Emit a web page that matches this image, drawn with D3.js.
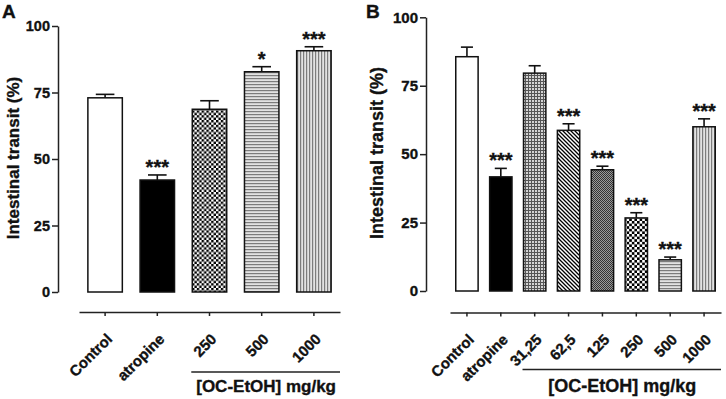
<!DOCTYPE html>
<html>
<head>
<meta charset="utf-8">
<script src="https://cdn.jsdelivr.net/npm/d3@7"></script>
<style>
  body { margin: 0; background: #fff; }
  svg { display: block; }
  text { font-family: "Liberation Sans", Arial, sans-serif; font-weight: 700; fill: #111; stroke: #111; stroke-width: 0.35px; }
</style>
</head>
<body>
<div id="chart"></div>
<script>
// Data
const categoriesA = ['Control', 'atropine', '250', '500', '1000'];
const meansA = [73.0, 42.1, 68.7, 82.8, 90.7];
const errorsA = [1.3, 1.9, 3.2, 1.9, 1.5];
const starsA = ['', '***', '', '*', '***'];

const categoriesB = ['Control', 'atropine', '31,25', '62,5', '125', '250', '500', '1000'];
const meansB = [85.6, 41.7, 79.6, 58.7, 44.3, 26.7, 11.4, 60.0];
const errorsB = [3.5, 3.1, 2.7, 2.4, 1.3, 1.9, 1.0, 2.9];
const starsB = ['', '***', '', '***', '***', '***', '***', '***'];

const yTicks = [0, 25, 50, 75, 100];
const yTitle = 'Intestinal transit (%)';
const doseLabel = '[OC-EtOH] mg/kg';

const width = 726;
const height = 399;

const svg = d3.select('#chart')
  .append('svg')
    .attr('width', width)
    .attr('height', height)
    .attr('viewBox', `0 0 ${width} ${height}`);

svg.append('rect').attr('width', width).attr('height', height).attr('fill', '#fff');

// Hatch patterns for the bars
const defs = svg.append('defs');

const checker = (id, size, dark, light) => {
  const p = defs.append('pattern').attr('id', id)
    .attr('patternUnits', 'userSpaceOnUse')
    .attr('width', size * 2).attr('height', size * 2);
  p.append('rect').attr('width', size * 2).attr('height', size * 2).attr('fill', light);
  p.append('rect').attr('width', size).attr('height', size).attr('fill', dark);
  p.append('rect').attr('x', size).attr('y', size).attr('width', size).attr('height', size).attr('fill', dark);
};
checker('checkA', 2.4, '#000', '#fff');
checker('checkB', 2.6, '#000', '#fff');
checker('darkFine', 1, '#333', '#9a9a9a');

const stripes = (id, vertical) => {
  const p = defs.append('pattern').attr('id', id)
    .attr('patternUnits', 'userSpaceOnUse')
    .attr('width', vertical ? 3 : 30).attr('height', vertical ? 30 : 3);
  p.append('rect').attr('width', 30).attr('height', 30).attr('fill', '#e2e2e2');
  p.append('rect')
    .attr('width', vertical ? 1.2 : 30)
    .attr('height', vertical ? 30 : 1.2)
    .attr('fill', '#7c7c7c');
};
stripes('horiz', false);
stripes('vert', true);

const grid = defs.append('pattern').attr('id', 'grid')
  .attr('patternUnits', 'userSpaceOnUse').attr('width', 3).attr('height', 3);
grid.append('rect').attr('width', 3).attr('height', 3).attr('fill', '#d4d4d4');
grid.append('rect').attr('width', 1).attr('height', 3).attr('fill', '#555');
grid.append('rect').attr('width', 3).attr('height', 1).attr('fill', '#555');

const diag = defs.append('pattern').attr('id', 'diag')
  .attr('patternUnits', 'userSpaceOnUse').attr('width', 4).attr('height', 4);
diag.append('rect').attr('width', 4).attr('height', 4).attr('fill', '#fff');
diag.append('path')
  .attr('d', 'M-1,-1 L5,5 M-1,3 L1,5 M3,-1 L5,1')
  .attr('stroke', '#000').attr('stroke-width', 1.3);

const fillsA = ['#fff', '#000', 'url(#checkA)', 'url(#horiz)', 'url(#vert)'];
const fillsB = ['#fff', '#000', 'url(#grid)', 'url(#diag)', 'url(#darkFine)', 'url(#checkB)', 'url(#horiz)', 'url(#vert)'];

// Draws one panel
const drawPanel = (cfg) => {
  const g = svg.append('g');

  const y = d3.scaleLinear().domain([0, 100]).range([cfg.y0, cfg.y100]);
  const x = d3.scaleBand()
    .domain(cfg.categories)
    .range([cfg.xStart, cfg.xEnd])
    .paddingInner(0.34)
    .paddingOuter(0.17);

  // Y axis
  const yAxis = g.append('g')
    .attr('transform', `translate(${cfg.yAxisX},0)`)
    .call(d3.axisLeft(y).tickValues(yTicks).tickSize(6).tickSizeOuter(0).tickPadding(2));
  yAxis.selectAll('path, line').attr('stroke', '#222').attr('stroke-width', 1.5);
  yAxis.selectAll('text')
    .attr('font-size', cfg.tickFont)
    .attr('font-family', '"Liberation Sans", Arial, sans-serif')
    .attr('fill', '#111');

  g.append('text')
    .attr('transform', `translate(${cfg.titleX},${cfg.titleY}) rotate(-90)`)
    .attr('text-anchor', 'middle')
    .attr('font-size', cfg.titleFont)
    .text(yTitle);

  // X axis, drawn below the bars
  const xAxis = g.append('g')
    .attr('transform', `translate(0,${cfg.xAxisY})`)
    .call(d3.axisBottom(x).tickSize(4).tickSizeOuter(0));
  xAxis.selectAll('path, line').attr('stroke', '#222').attr('stroke-width', 1.5);
  xAxis.selectAll('text')
    .attr('font-size', 15)
    .attr('font-family', '"Liberation Sans", Arial, sans-serif')
    .attr('fill', '#111')
    .attr('text-anchor', 'end')
    .attr('y', null)
    .attr('dy', null)
    .attr('transform', 'translate(8,28) rotate(-45)');

  // Bars
  const data = cfg.categories.map((c, i) => ({c, m: cfg.means[i], e: cfg.errors[i], s: cfg.stars[i], f: cfg.fills[i]}));
  const cap = x.bandwidth() * 0.27;

  const bars = g.append('g').selectAll('g').data(data).join('g');
  bars.append('line')
    .attr('x1', d => x(d.c) + x.bandwidth() / 2)
    .attr('x2', d => x(d.c) + x.bandwidth() / 2)
    .attr('y1', d => y(d.m))
    .attr('y2', d => y(d.m + d.e))
    .attr('stroke', '#111').attr('stroke-width', 1.6);
  bars.append('line')
    .attr('x1', d => x(d.c) + x.bandwidth() / 2 - cap)
    .attr('x2', d => x(d.c) + x.bandwidth() / 2 + cap)
    .attr('y1', d => y(d.m + d.e))
    .attr('y2', d => y(d.m + d.e))
    .attr('stroke', '#111').attr('stroke-width', 1.6);
  bars.append('rect')
    .attr('x', d => x(d.c))
    .attr('y', d => y(d.m))
    .attr('width', x.bandwidth())
    .attr('height', d => y(0) - y(d.m))
    .attr('fill', d => d.f)
    .attr('stroke', '#111')
    .attr('stroke-width', 1.5);
  bars.append('text')
    .attr('x', d => x(d.c) + x.bandwidth() / 2)
    .attr('y', d => y(d.m + d.e) - 1)
    .attr('text-anchor', 'middle')
    .attr('font-size', 20)
    .text(d => d.s);

  // Dose bracket
  const first = x(cfg.categories[2]);
  g.append('line')
    .attr('x1', first - 1)
    .attr('x2', cfg.xEnd)
    .attr('y1', cfg.bracketY)
    .attr('y2', cfg.bracketY)
    .attr('stroke', '#222').attr('stroke-width', 1.5);
  g.append('text')
    .attr('x', (first + cfg.xEnd) / 2)
    .attr('y', 392)
    .attr('text-anchor', 'middle')
    .attr('font-size', cfg.doseFont)
    .text(doseLabel);

  g.append('text')
    .attr('x', cfg.letterX)
    .attr('y', 18)
    .attr('font-size', 19)
    .text(cfg.letter);
};

drawPanel({
  letter: 'A', letterX: 2,
  categories: categoriesA, means: meansA, errors: errorsA, stars: starsA, fills: fillsA,
  y0: 292, y100: 26, yAxisX: 58,
  xStart: 79, xEnd: 340, xAxisY: 312,
  tickFont: 14.5, titleX: 19, titleY: 158, titleFont: 17,
  bracketY: 372, doseFont: 17
});

drawPanel({
  letter: 'B', letterX: 366,
  categories: categoriesB, means: meansB, errors: errorsB, stars: starsB, fills: fillsB,
  y0: 291, y100: 17.3, yAxisX: 426,
  xStart: 450, xEnd: 721, xAxisY: 312.5,
  tickFont: 15, titleX: 383, titleY: 153, titleFont: 18,
  bracketY: 369.5, doseFont: 18
});
</script>
</body>
</html>
